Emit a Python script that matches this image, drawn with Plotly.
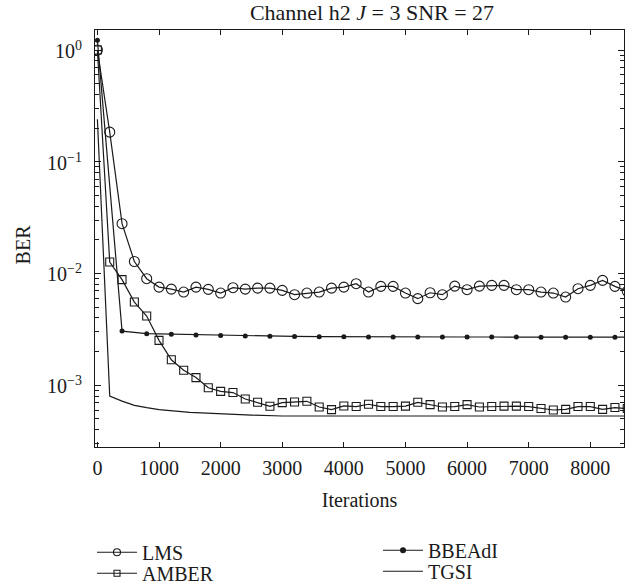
import math
import plotly.graph_objects as go

# ---------------- data ----------------
lms_x = list(range(0, 8601, 200))
lms_y = [1.0, 0.184, 0.0279, 0.0128, 0.00898, 0.00755, 0.00725, 0.00682, 0.00755, 0.00721,
         0.00668, 0.00746, 0.00725, 0.0074, 0.0074, 0.00706, 0.00646, 0.00668, 0.00682, 0.0074,
         0.00755, 0.0081, 0.00682, 0.00767, 0.00767, 0.00668, 0.00595, 0.00672, 0.00646, 0.00771,
         0.00716, 0.00771, 0.00783, 0.00783, 0.00716, 0.00716, 0.00682, 0.00668, 0.00615, 0.00731,
         0.00783, 0.00867, 0.00767, 0.00692]

amber_x = list(range(0, 8601, 200))
amber_y = [1.0, 0.01265, 0.00881, 0.00555, 0.00416, 0.00252, 0.00169, 0.00136, 0.00117, 0.00095,
           0.00088, 0.00086, 0.000753, 0.000703, 0.000648, 0.000699, 0.000707, 0.000718, 0.000638, 0.000605,
           0.000652, 0.000644, 0.000675, 0.000644, 0.000644, 0.00065, 0.000703, 0.00067, 0.000638, 0.000644,
           0.00067, 0.000638, 0.000644, 0.00065, 0.00065, 0.000644, 0.000618, 0.0006, 0.000608, 0.000644,
           0.000644, 0.000608, 0.000631, 0.000618]

bbeadi_x = list(range(0, 8801, 400))
bbeadi_y = [1.22, 0.00305, 0.00289, 0.00286, 0.00281, 0.00278, 0.00276, 0.00274, 0.00273, 0.00272,
            0.00271, 0.00270, 0.00270, 0.00270, 0.00270, 0.00270, 0.00270, 0.00270, 0.00269, 0.00269,
            0.00269, 0.00269, 0.00269]

tgsi_x = [0, 200, 400, 600, 800, 1000, 1500, 2000, 2500, 3000, 8600]
tgsi_y = [0.24, 0.00080, 0.00072, 0.00066, 0.00063, 0.000605, 0.000572, 0.000552, 0.00054, 0.00053, 0.00053]

x_ticks = [0, 1000, 2000, 3000, 4000, 5000, 6000, 7000, 8000]
y_tick_vals = [1, 0.1, 0.01, 0.001]
y_tick_text = ["10<sup>0</sup>", "10<sup>−1</sup>", "10<sup>−2</sup>", "10<sup>−3</sup>"]

series_names = ["LMS", "AMBER", "BBEAdI", "TGSI"]
title_text = "Channel h2 <i>J</i> = 3 SNR = 27"
x_title = "Iterations"
y_title = "BER"

# ---------------- figure ----------------
FONT = "Liberation Serif, Times New Roman, serif"
C = "#1a1a1a"
W, H = 636, 587
L, R, T, B = 95, 12, 29.5, 140.3
PW, PH = W - L - R, H - T - B
FS = 20


def px_to_paper_x(px):
    return (px - L) / PW


def px_to_paper_y(py):
    return (H - B - py) / PH


line_style = dict(color=C, width=1.2)
plot_markers = [
    dict(symbol="circle-open", size=10, color=C, line=dict(width=1.1)),
    dict(symbol="square-open", size=8, color=C, line=dict(width=1.1)),
    dict(symbol="circle", size=5, color=C),
    None,
]
legend_markers = [
    dict(symbol="circle-open", size=7, color=C, line=dict(width=1.1)),
    dict(symbol="square-open", size=6, color=C, line=dict(width=1.1)),
    dict(symbol="circle", size=6, color=C),
    None,
]
xs = [lms_x, amber_x, bbeadi_x, tgsi_x]
ys = [lms_y, amber_y, bbeadi_y, tgsi_y]
legend_ids = ["legend", "legend2", "legend3", "legend4"]

fig = go.Figure()
for name, x, y, mk in zip(series_names, xs, ys, plot_markers):
    fig.add_trace(go.Scatter(x=x, y=y, name=name, mode="lines+markers" if mk else "lines",
                             line=line_style, marker=mk, showlegend=False))
for name, mk, lg in zip(series_names, legend_markers, legend_ids):
    fig.add_trace(go.Scatter(x=[None], y=[None], name=name, mode="lines+markers" if mk else "lines",
                             line=line_style, marker=mk, showlegend=True, legend=lg))

minor_vals = [m * 10.0 ** e for e in range(-4, 1) for m in range(2, 10)]

axis_common = dict(showline=True, linecolor=C, linewidth=1.2, mirror="ticks",
                   ticks="inside", tickcolor=C, showgrid=False, zeroline=False,
                   tickfont=dict(family=FONT, size=FS, color=C))

fig.update_xaxes(range=[-39, 8547], tickvals=x_ticks, ticklen=5, tickwidth=1.1,
                 ticklabelstandoff=3,
                 title=dict(text=x_title, font=dict(family=FONT, size=FS, color=C), standoff=14),
                 **axis_common)
fig.update_yaxes(type="log", range=[-3.553, 0.179], tickvals=y_tick_vals,
                 showticklabels=False, ticklen=6, tickwidth=1.1,
                 minor=dict(tickvals=minor_vals, ticks="inside", ticklen=4, tickcolor=C, tickwidth=1),
                 **axis_common)

# y tick labels placed on the log axis scale
for v, t in zip(y_tick_vals, y_tick_text):
    fig.add_annotation(text=t, xref="paper", yref="y", x=px_to_paper_x(84), y=math.log10(v),
                       xanchor="right", yanchor="middle", showarrow=False,
                       font=dict(family=FONT, size=FS, color=C))

fig.add_annotation(text=y_title, xref="paper", yref="paper",
                   x=px_to_paper_x(23), y=px_to_paper_y(244), xanchor="center", yanchor="middle",
                   textangle=-90, showarrow=False, font=dict(family=FONT, size=FS, color=C))

legend_common = dict(font=dict(family=FONT, size=FS, color=C), bgcolor="rgba(0,0,0,0)",
                     orientation="v", xanchor="left", yanchor="middle", tracegroupgap=0,
                     itemwidth=40, borderwidth=0)

fig.update_layout(
    width=W, height=H,
    margin=dict(l=L, r=R, t=T, b=B, autoexpand=False),
    paper_bgcolor="white", plot_bgcolor="white",
    showlegend=True,
    title=dict(text=title_text, x=372 / W, xref="container", xanchor="center",
               y=1 - 12 / H, yref="container", yanchor="middle",
               font=dict(family=FONT, size=22, color=C)),
    legend=dict(x=px_to_paper_x(92), y=px_to_paper_y(552), **legend_common),
    legend2=dict(x=px_to_paper_x(92), y=px_to_paper_y(573), **legend_common),
    legend3=dict(x=px_to_paper_x(378), y=px_to_paper_y(550), **legend_common),
    legend4=dict(x=px_to_paper_x(378), y=px_to_paper_y(571), **legend_common),
)

fig.write_html("out.html", config={"displayModeBar": False},
               post_script="document.body.style.margin='0';document.body.style.overflow='hidden';")
